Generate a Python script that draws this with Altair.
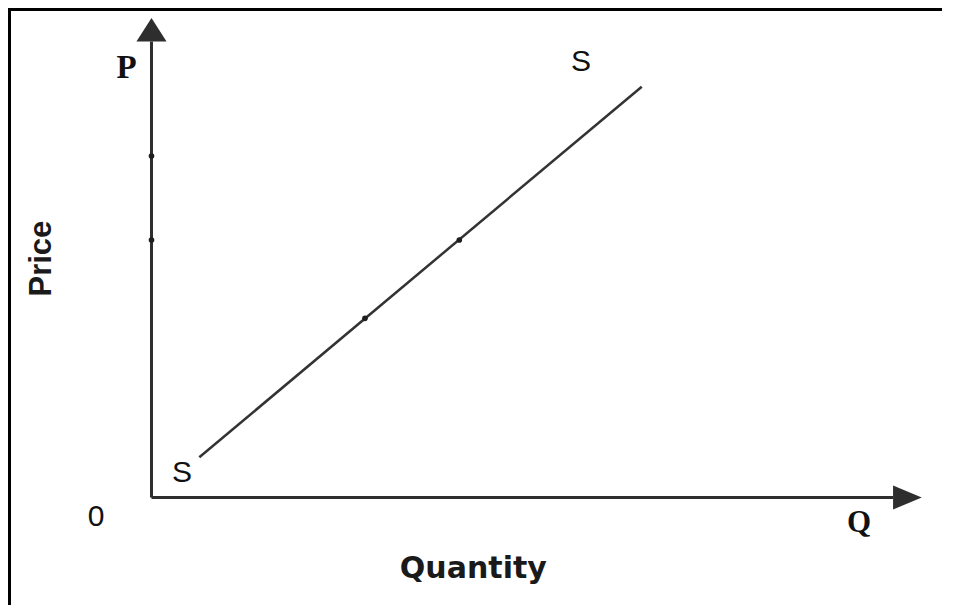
import altair as alt
import pandas as pd

# Axis extents (data units): origin at 0, axes run to 100 where arrowheads sit
axis_q = [0, 100]
axis_p = [0, 100]

# Supply curve S-S end points
supply_q = [6.45, 66.11]
supply_p = [8.82, 90.09]

# small marks on the supply line and on the price axis
line_dot_q = [28.79, 41.51]
line_dot_p = [39.3, 56.47]
axis_dot_p = [74.89, 56.47]

# text labels
label_text = ["P", "S", "S", "0", "Q"]
label_q = [-3.37, 57.92, 4.11, -7.48, 95.42]
label_p = [94.1, 95.5, 5.48, -4.28, -5.6]
label_font = ["Liberation Serif", "Liberation Sans", "Liberation Sans", "Liberation Sans", "Liberation Serif"]
label_weight = ["bold", "normal", "normal", "normal", "bold"]
label_size = [33, 30, 30, 30, 31]

xtitle = "Quantity"
ytitle = "Price"
xtitle_pos = [43.4, -15.6]
ytitle_pos = [-14.77, 52.4]

QDOM = [-19.35, 106.6]
PDOM = [-23.57, 107.35]

xs = alt.Scale(domain=QDOM, nice=False, zero=False)
ys = alt.Scale(domain=PDOM, nice=False, zero=False)
X = lambda f: alt.X(f, type="quantitative", scale=xs, axis=None)
Y = lambda f: alt.Y(f, type="quantitative", scale=ys, axis=None)

INK = "#2e2e2e"

axes_df = pd.DataFrame({
    "q": [axis_q[0], axis_q[1], axis_q[0], axis_q[0]],
    "p": [axis_p[0], axis_p[0], axis_p[0], axis_p[1]],
    "seg": ["x", "x", "y", "y"],
})
axes = alt.Chart(axes_df).mark_line(color=INK, strokeWidth=3).encode(
    x=X("q"), y=Y("p"), detail="seg:N"
)

up_arrow = alt.Chart(pd.DataFrame({"q": [axis_q[0]], "p": [axis_p[1]]})).mark_point(
    shape="M0,-1L-0.64,0L0.64,0Z", size=2209, filled=True, color=INK, opacity=1, strokeWidth=0
).encode(x=X("q"), y=Y("p"))

right_arrow = alt.Chart(pd.DataFrame({"q": [axis_q[1]], "p": [axis_p[0]]})).mark_point(
    shape="M1,0L0,-0.42L0,0.42Z", size=3295, filled=True, color=INK, opacity=1, strokeWidth=0
).encode(x=X("q"), y=Y("p"))

supply = alt.Chart(pd.DataFrame({"q": supply_q, "p": supply_p})).mark_line(
    color="#333333", strokeWidth=2.5
).encode(x=X("q"), y=Y("p"))

dots_df = pd.DataFrame({
    "q": line_dot_q + [axis_q[0]] * len(axis_dot_p),
    "p": line_dot_p + axis_dot_p,
})
dots = alt.Chart(dots_df).mark_point(
    shape="circle", size=32, filled=True, color="#1e1e1e", opacity=1
).encode(x=X("q"), y=Y("p"))

labels_df = pd.DataFrame({"t": label_text, "q": label_q, "p": label_p})
layers = []
for i in range(len(label_text)):
    layers.append(
        alt.Chart(labels_df.iloc[[i]]).mark_text(
            font=label_font[i], fontWeight=label_weight[i], fontSize=label_size[i],
            color="#111111", align="center", baseline="middle"
        ).encode(x=X("q"), y=Y("p"), text="t:N")
    )

xt = alt.Chart(pd.DataFrame({"t": [xtitle], "q": [xtitle_pos[0]], "p": [xtitle_pos[1]]})).mark_text(
    font="DejaVu Sans", fontWeight="bold", fontSize=30, color="#1a1a1a",
    align="center", baseline="middle"
).encode(x=X("q"), y=Y("p"), text="t:N")

yt = alt.Chart(pd.DataFrame({"t": [ytitle], "q": [ytitle_pos[0]], "p": [ytitle_pos[1]]})).mark_text(
    font="Liberation Sans", fontWeight="bold", fontSize=31, color="#1a1a1a",
    align="center", baseline="middle", angle=270
).encode(x=X("q"), y=Y("p"), text="t:N")

frame_left = alt.Chart(pd.DataFrame({"a": [0]})).mark_rule(color="#000000", strokeWidth=3).encode(
    x=alt.value(1.5), y=alt.value(0), y2=alt.value(597)
)
frame_top = alt.Chart(pd.DataFrame({"a": [0]})).mark_rule(color="#000000", strokeWidth=3).encode(
    x=alt.value(0), x2=alt.value(934), y=alt.value(1.5)
)

chart = alt.layer(
    frame_left, frame_top, axes, supply, dots, up_arrow, right_arrow, xt, yt, *layers
).properties(
    width=934, height=597, padding=0, autosize=alt.AutoSizeParams(type="none")
).configure_view(stroke="transparent", strokeWidth=0).configure(background="white")

chart.save("out.html", embed_options={"renderer": "svg", "actions": False})
